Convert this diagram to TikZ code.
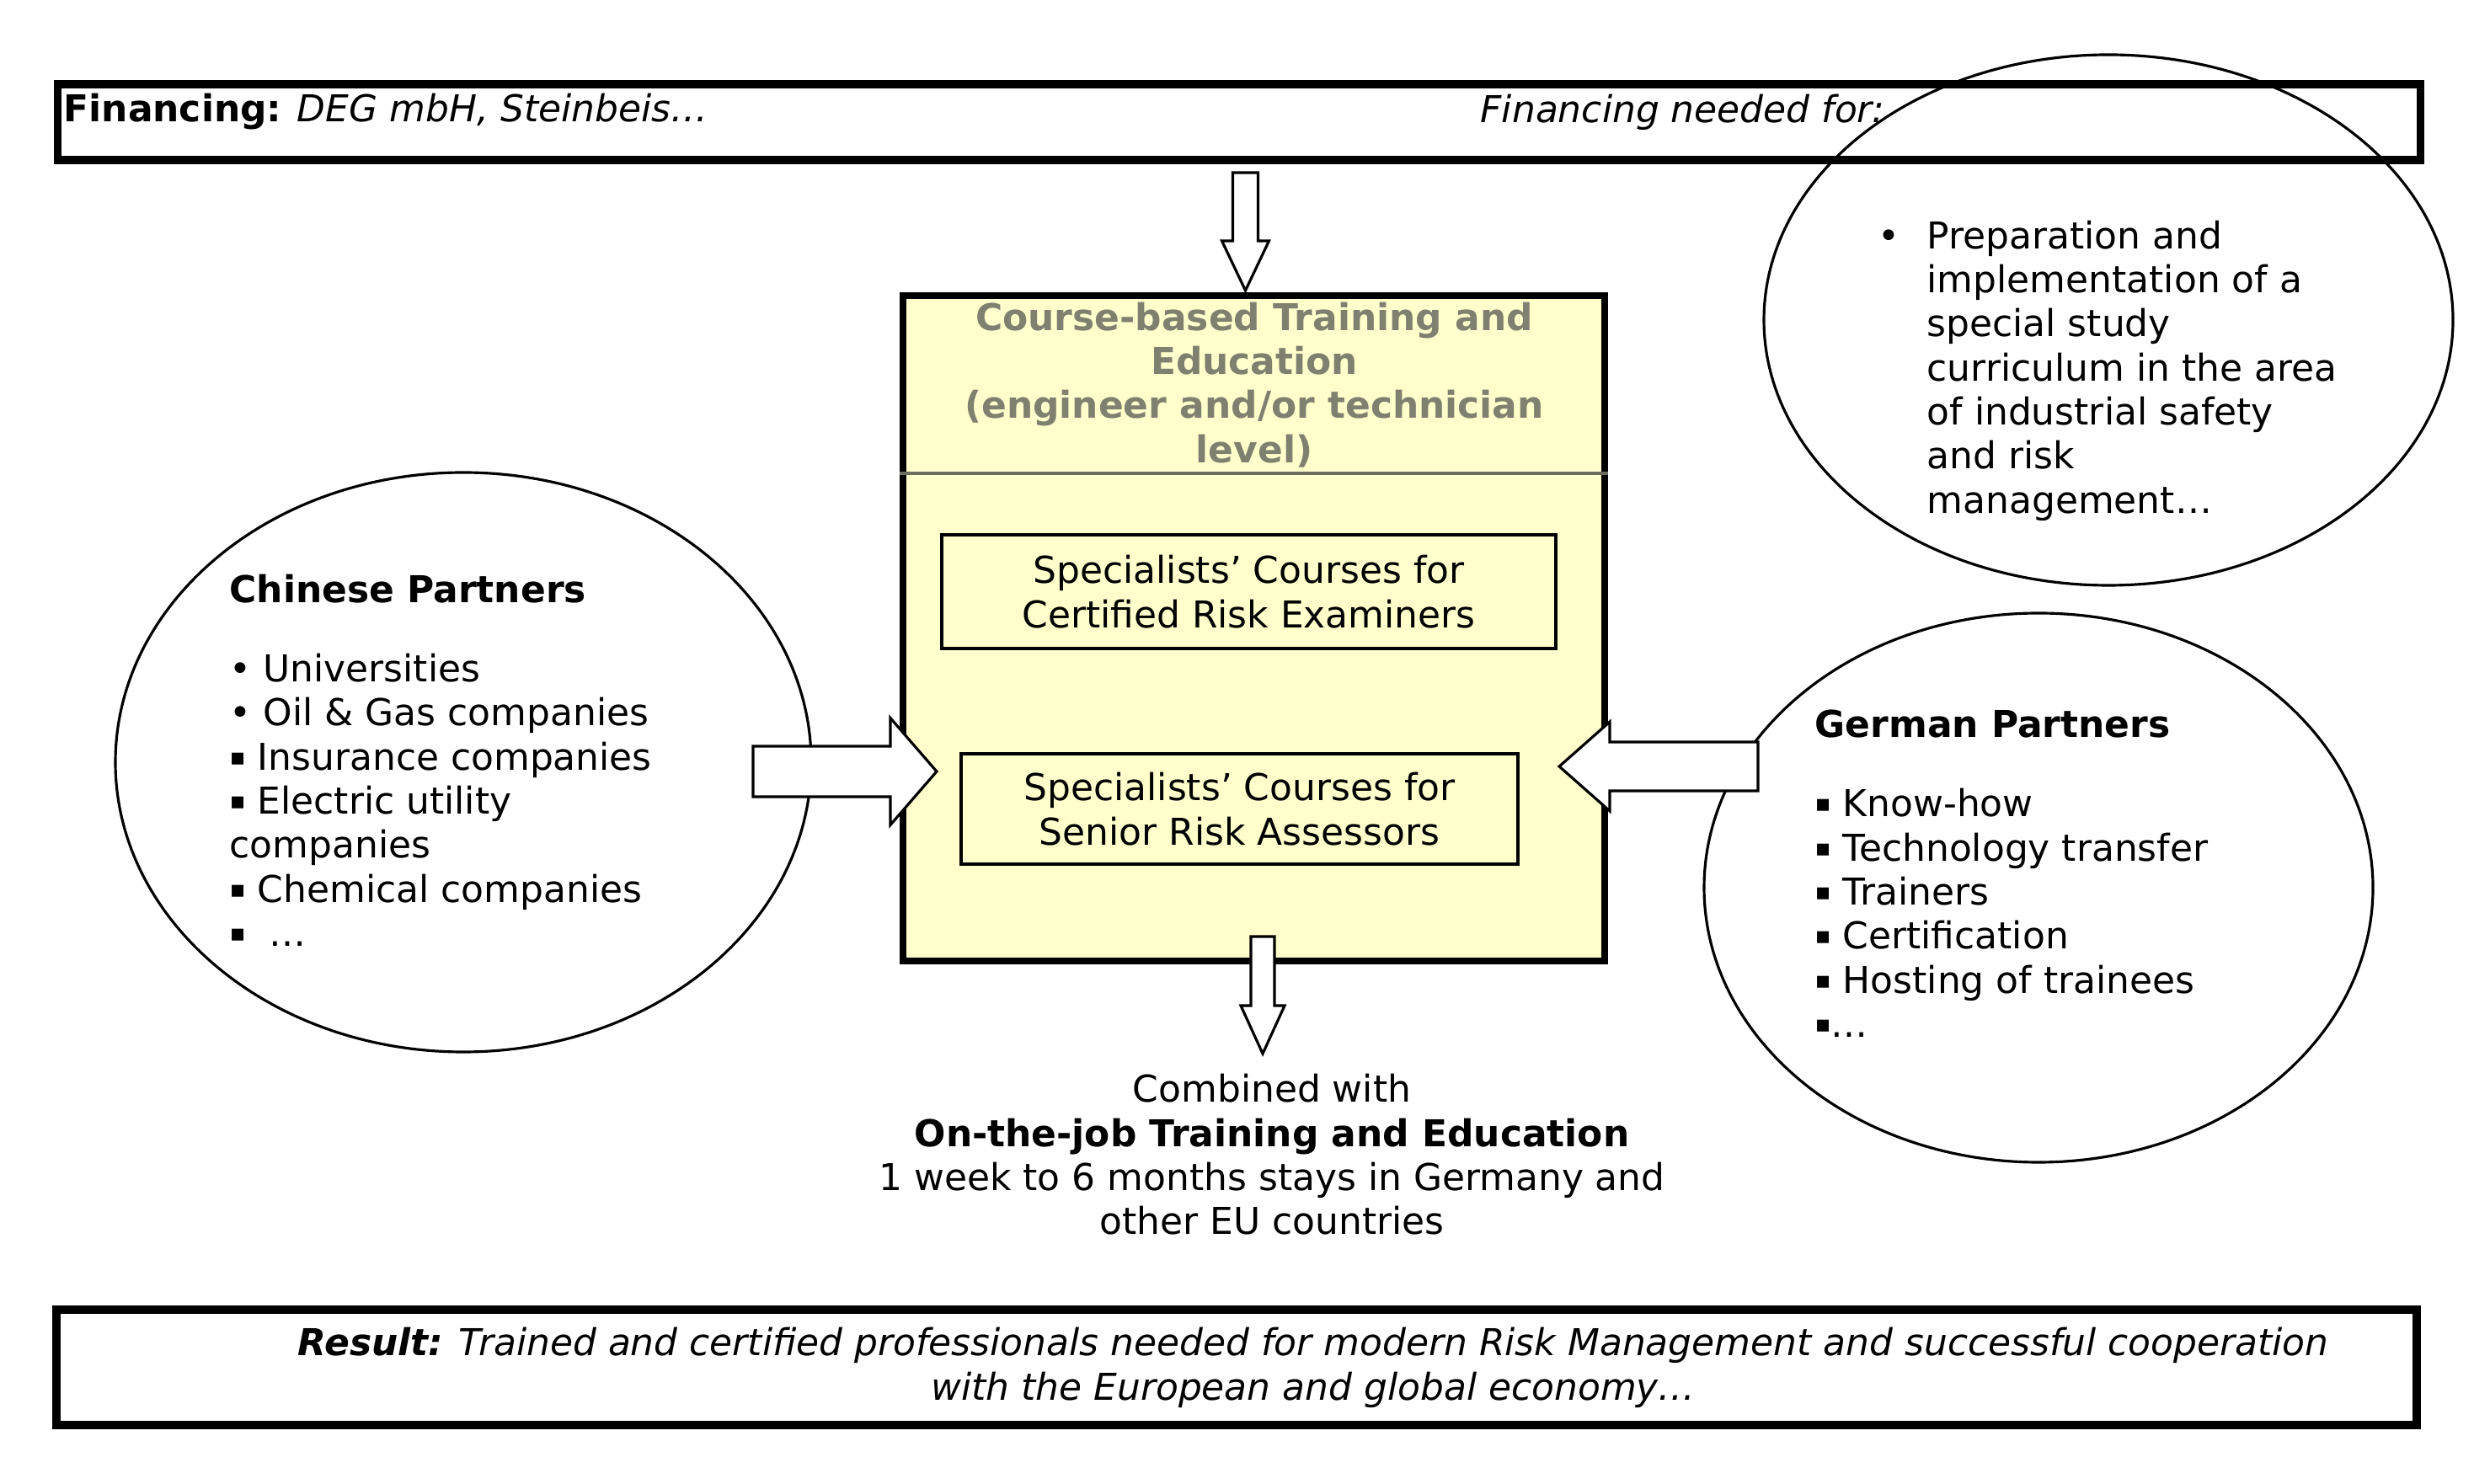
\documentclass[tikz,border=0pt]{standalone}
\usepackage{fontspec}
\setmainfont{DejaVu Sans}
\usetikzlibrary{shapes.geometric, positioning, calc}
\definecolor{courseyellow}{RGB}{255,255,204}
\definecolor{titlegray}{RGB}{128,128,112}
\newcommand{\sqbul}{\raisebox{0.06cm}{\fontsize{8}{8}\selectfont ▪}}

\begin{document}
\begin{tikzpicture}[
            banner/.style={rectangle, draw, line width=2.8pt, minimum width=28.05cm, minimum height=0.90cm, inner sep=0pt},
            partner/.style={ellipse, draw, line width=0.9pt, inner sep=0pt},
            coursebox/.style={rectangle, draw, line width=2.3pt, fill=courseyellow, minimum width=8.33cm, minimum height=7.90cm, inner sep=0pt},
            innerbox/.style={rectangle, draw, line width=1.4pt, align=center, inner sep=0pt},
            txt/.style={inner sep=0pt, font=\fontsize{12.5}{14.9}\selectfont},
            fatarrow/.style={draw, line width=0.9pt, fill=white, line join=miter}
        ]
            \useasboundingbox (0,0) rectangle (29.37,17.61);

            % Financiacion (arriba)
            \node[banner] (fin_box) at (14.71, 16.16) {};
            \node[txt, anchor=west] (fin_text) at (0.75, 16.28) {\textbf{Financing:} \textit{DEG mbH, Steinbeis…}};
            \node[txt, anchor=west] (need_text) at (17.57, 16.28) {\textit{Financing needed for:}};

            % Elipse de arriba a la derecha
            \node[partner, minimum width=8.18cm, minimum height=6.30cm] (need_ell) at (25.03, 13.81) {};
            \node[txt, anchor=west, align=left] (need_list) at (22.87, 13.21)
                {\llap{•\hspace{0.32cm}}Preparation and\\implementation of a\\special study\\curriculum in the area\\of industrial safety\\and risk\\management…};

            % Caja central
            \node[coursebox] (course_box) at (14.885, 10.15) {};
            \node[txt, align=center, text=titlegray, font=\fontsize{12.5}{14.9}\selectfont\bfseries] (course_title) at (14.89, 13.04)
                {Course-based Training and\\Education\\(engineer and/or technician\\level)};
            \coordinate (sep) at (0, 11.99);
            \draw[titlegray!85!black, line width=1.3pt] (course_box.west |- sep) -- (course_box.east |- sep);

            \node[innerbox, minimum width=7.29cm, minimum height=1.35cm] (exam_box) at (14.825, 10.585) {};
            \node[txt, align=center] (exam_text) at (exam_box) {Specialists’ Courses for\\Certified Risk Examiners};
            \node[innerbox, minimum width=6.61cm, minimum height=1.31cm] (assess_box) at (14.715, 8.005) {};
            \node[txt, align=center] (assess_text) at (assess_box) {Specialists’ Courses for\\Senior Risk Assessors};

            % Socios chinos
            \node[partner, minimum width=8.26cm, minimum height=6.88cm] (cn_ell) at (5.50, 8.56) {};
            \node[txt, anchor=north west, align=left] (cn_text) at (2.72, 10.80)
                {\textbf{Chinese Partners}\\[0.42cm]• Universities\\• Oil \& Gas companies\\\sqbul\ Insurance companies\\\sqbul\ Electric utility\\companies\\\sqbul\ Chemical companies\\\sqbul\ \ …};

            % Socios alemanes
            \node[partner, minimum width=7.94cm, minimum height=6.52cm] (de_ell) at (24.20, 7.07) {};
            \node[txt, anchor=north west, align=left] (de_text) at (21.54, 9.19)
                {\textbf{German Partners}\\[0.42cm]\sqbul\ Know-how\\\sqbul\ Technology transfer\\\sqbul\ Trainers\\\sqbul\ Certification\\\sqbul\ Hosting of trainees\\\sqbul…};

            % Texto de abajo
            \node[txt, align=center] (ojt_text) at (15.10, 3.90)
                {Combined with\\\textbf{On-the-job Training and Education}\\1 week to 6 months stays in Germany and\\other EU countries};

            % Resultado
            \node[banner, minimum width=28.02cm, minimum height=1.37cm] (res_box) at (14.68, 1.375) {};
            \node[txt, align=center] (res_text) at (15.59, 1.37)
                {\textbf{\textit{Result:}} \textit{Trained and certified professionals needed for modern Risk Management and successful cooperation}\\\textit{with the European and global economy…}};

            % Flechas
            \coordinate (top_tip) at ($(course_box.north)+(-0.10,0.02)$);
            \coordinate (cn_tip) at ($(course_box.west)+(0.44,-1.70)$);
            \coordinate (de_tip) at ($(course_box.east)+(-0.58,-1.64)$);
            \coordinate (out_tip) at ($(course_box.south)+(0.105,-1.06)$);

            \draw[fatarrow] (top_tip) -- ++(0.28,0.59) -- ++(-0.13,0) -- ++(0,0.81) -- ++(-0.30,0) -- ++(0,-0.81) -- ++(-0.13,0) -- cycle;
            \draw[fatarrow] (cn_tip) -- ++(-0.55,0.635) -- ++(0,-0.335) -- ++(-1.63,0) -- ++(0,-0.60) -- ++(1.63,0) -- ++(0,-0.335) -- cycle;
            \draw[fatarrow] (de_tip) -- ++(0.60,0.53) -- ++(0,-0.24) -- ++(1.76,0) -- ++(0,-0.58) -- ++(-1.76,0) -- ++(0,-0.24) -- cycle;
            \draw[fatarrow] (out_tip) -- ++(0.26,0.57) -- ++(-0.12,0) -- ++(0,0.82) -- ++(-0.28,0) -- ++(0,-0.82) -- ++(-0.12,0) -- cycle;

\end{tikzpicture}
\end{document}
